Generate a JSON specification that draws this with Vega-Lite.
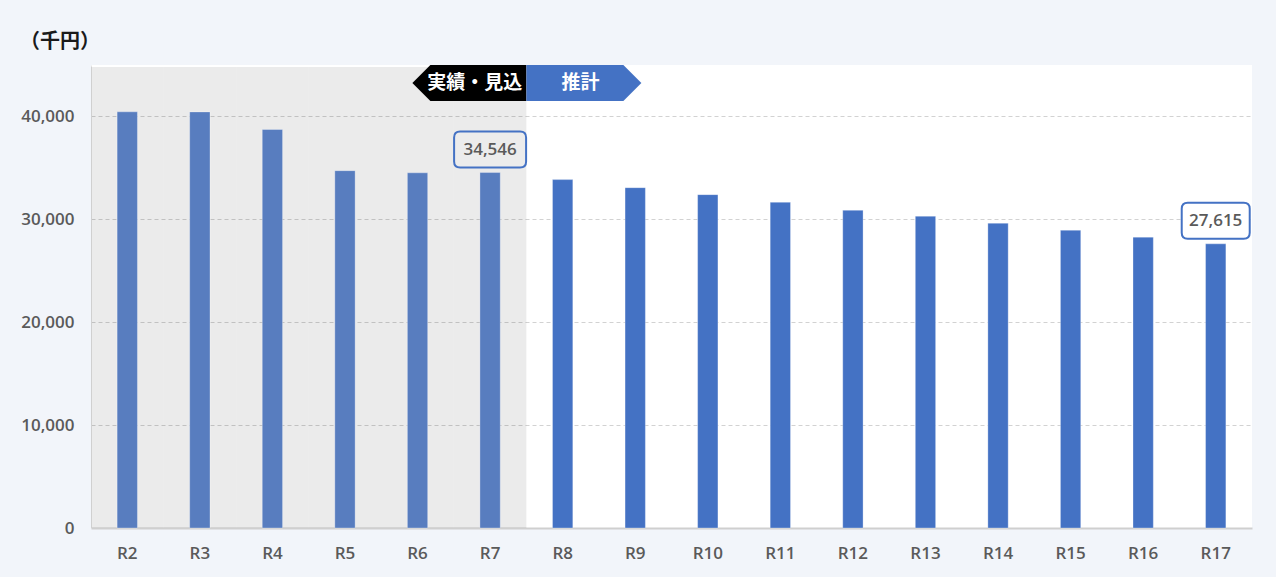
{
  "$schema": "https://vega.github.io/schema/vega-lite/v6.json",
  "width": 1161,
  "height": 463,
  "autosize": {"type": "none"},
  "padding": {"left": 91, "top": 65, "right": 24, "bottom": 49},
  "background": "#f2f5fa",
  "config": {
    "view": {"fill": "#ffffff", "stroke": null},
    "font": "Open Sans, Noto Sans CJK JP"
  },
  "title": {
    "text": "（千円）",
    "anchor": "start",
    "frame": "group",
    "dx": -71,
    "offset": 3,
    "baseline": "middle",
    "fontSize": 20,
    "fontWeight": "bold",
    "color": "#1a1a1a",
    "font": "Noto Sans CJK JP"
  },
  "data": {
    "values": [
      {"year": "R2", "value": 40450, "phase": "actual"},
      {"year": "R3", "value": 40440, "phase": "actual"},
      {"year": "R4", "value": 38730, "phase": "actual"},
      {"year": "R5", "value": 34730, "phase": "actual"},
      {"year": "R6", "value": 34520, "phase": "actual"},
      {"year": "R7", "value": 34546, "phase": "actual"},
      {"year": "R8", "value": 33860, "phase": "forecast"},
      {"year": "R9", "value": 33080, "phase": "forecast"},
      {"year": "R10", "value": 32400, "phase": "forecast"},
      {"year": "R11", "value": 31660, "phase": "forecast"},
      {"year": "R12", "value": 30880, "phase": "forecast"},
      {"year": "R13", "value": 30300, "phase": "forecast"},
      {"year": "R14", "value": 29620, "phase": "forecast"},
      {"year": "R15", "value": 28940, "phase": "forecast"},
      {"year": "R16", "value": 28270, "phase": "forecast"},
      {"year": "R17", "value": 27615, "phase": "forecast"}
    ]
  },
  "encoding": {
    "x": {
      "field": "year",
      "type": "nominal",
      "sort": null,
      "scale": {"paddingInner": 0, "paddingOuter": 0},
      "axis": {
        "title": null,
        "labelAngle": 0,
        "ticks": false,
        "grid": false,
        "domainColor": "#cfcfcf",
        "domainWidth": 2,
        "labelPadding": 17,
        "labelFontSize": 17,
        "labelFontWeight": 600,
        "labelColor": "#5a5a5a"
      }
    }
  },
  "layer": [
    {
      "transform": [{"filter": "datum.phase === 'actual'"}],
      "mark": {"type": "bar", "width": {"band": 1}, "fill": "#000000", "fillOpacity": 0.078},
      "encoding": {
        "y": {"datum": 44800, "type": "quantitative"}
      }
    },
    {
      "mark": {"type": "bar", "width": {"band": 0.28}, "stroke": "#ffffff", "strokeOpacity": 0.3, "strokeWidth": 1},
      "encoding": {
        "y": {
          "field": "value",
          "type": "quantitative",
          "scale": {"domain": [0, 44800]},
          "axis": {
            "values": [0, 10000, 20000, 30000, 40000],
            "labelExpr": "format(datum.value, ',')",
            "title": null,
            "ticks": false,
            "domainColor": "#e2e2e2",
            "labelPadding": 17,
            "labelFontSize": 17,
            "labelFontWeight": 600,
            "labelColor": "#5a5a5a",
            "grid": true,
            "gridDash": [4, 3],
            "gridColor": "#d2d2d2"
          }
        },
        "color": {
          "field": "phase",
          "type": "nominal",
          "scale": {"domain": ["actual", "forecast"], "range": ["#587dbf", "#4472c4"]},
          "legend": null
        }
      }
    },
    {
      "transform": [{"filter": "datum.year === 'R7' || datum.year === 'R17'"}],
      "mark": {"type": "point", "size": 4, "filled": true, "opacity": 1, "stroke": "#4472c4", "strokeWidth": 2, "strokeOpacity": 1},
      "encoding": {
        "y": {"field": "value", "type": "quantitative"},
        "shape": {
          "condition": {"test": "datum.year === 'R7'", "value": "M-30,-41 L30,-41 Q36,-41 36,-35 L36,-11 Q36,-5 30,-5 L-30,-5 Q-36,-5 -36,-11 L-36,-35 Q-36,-41 -30,-41 Z"},
          "value": "M-28,-41 L28,-41 Q34,-41 34,-35 L34,-11 Q34,-5 28,-5 L-28,-5 Q-34,-5 -34,-11 L-34,-35 Q-34,-41 -28,-41 Z"
        },
        "fill": {
          "condition": {"test": "datum.year === 'R7'", "value": "#ececec"},
          "value": "#ffffff"
        }
      }
    },
    {
      "transform": [{"filter": "datum.year === 'R7' || datum.year === 'R17'"}],
      "mark": {"type": "text", "dy": -23, "baseline": "middle", "fontSize": 17, "fontWeight": 600, "color": "#5a5a5a"},
      "encoding": {
        "y": {"field": "value", "type": "quantitative"},
        "text": {"field": "value", "type": "quantitative", "format": ","}
      }
    },
    {
      "transform": [{"filter": "datum.year === 'R8'"}],
      "mark": {"type": "point", "size": 4, "filled": true, "opacity": 1, "strokeWidth": 0, "shape": "M0,-2 L-96,-2 L-114,16 L-96,34 L0,34 Z", "fill": "#000000"},
      "encoding": {
        "x": {"field": "year", "type": "nominal", "bandPosition": 0},
        "y": {"datum": 44800, "type": "quantitative"}
      }
    },
    {
      "transform": [{"filter": "datum.year === 'R8'"}],
      "mark": {"type": "point", "size": 4, "filled": true, "opacity": 1, "strokeWidth": 0, "shape": "M0,-2 L97,-2 L115,16 L97,34 L0,34 Z", "fill": "#4472c4"},
      "encoding": {
        "x": {"field": "year", "type": "nominal", "bandPosition": 0},
        "y": {"datum": 44800, "type": "quantitative"}
      }
    },
    {
      "transform": [{"filter": "datum.year === 'R8'"}],
      "mark": {"type": "text", "text": "実績・見込", "align": "right", "dx": -4, "dy": 16, "baseline": "middle", "fontSize": 19, "fontWeight": "bold", "color": "#ffffff", "font": "Noto Sans CJK JP"},
      "encoding": {
        "x": {"field": "year", "type": "nominal", "bandPosition": 0},
        "y": {"datum": 44800, "type": "quantitative"}
      }
    },
    {
      "transform": [{"filter": "datum.year === 'R8'"}],
      "mark": {"type": "text", "text": "推計", "align": "center", "dx": 54, "dy": 16, "baseline": "middle", "fontSize": 19, "fontWeight": "bold", "color": "#ffffff", "font": "Noto Sans CJK JP"},
      "encoding": {
        "x": {"field": "year", "type": "nominal", "bandPosition": 0},
        "y": {"datum": 44800, "type": "quantitative"}
      }
    }
  ]
}
